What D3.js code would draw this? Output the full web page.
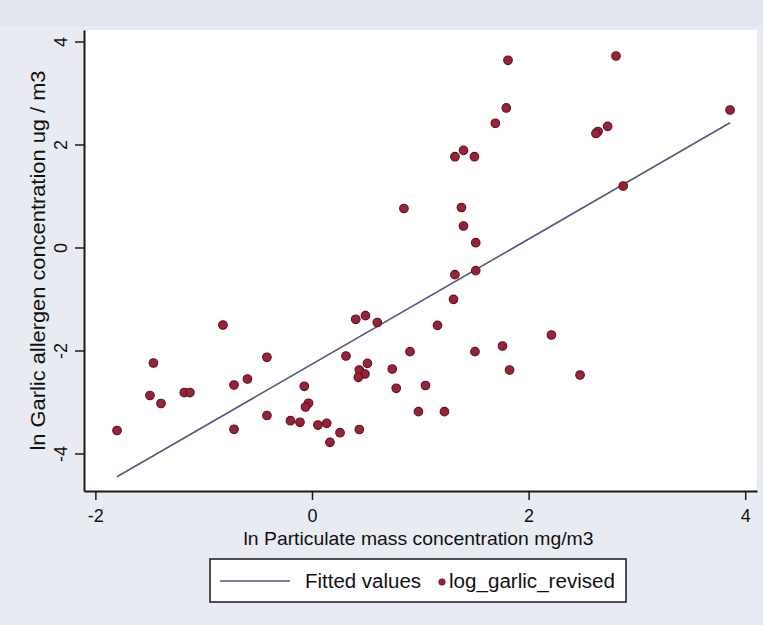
<!DOCTYPE html>
<html>
<head>
<meta charset="utf-8">
<script src="https://cdn.jsdelivr.net/npm/d3@7"></script>
<style>
  html, body { margin: 0; padding: 0; background: #e8ebf1; }
  svg { display: block; }
  text { font-family: "Liberation Sans", Arial, Helvetica, sans-serif; fill: #111; }
</style>
</head>
<body>
<svg id="chart" width="763" height="625"></svg>
<script>
// ---- data ----
const pmX = [-1.80, -1.464, -1.496, -1.394, -1.179, -1.127, -0.822, -0.720, -0.596, -0.720,
             -0.416, -0.416, -0.199, -0.111, -0.071, -0.032, -0.060, 0.055, 0.136, 0.166,
              0.259, 0.314, 0.404, 0.494, 0.603, 0.512, 0.437, 0.489, 0.428, 0.437,
              0.741, 0.778, 0.849, 0.905, 1.048, 0.983, 1.159, 1.223, 1.307, 1.320,
              1.512, 1.512, 1.399, 1.380, 1.320, 1.399, 1.500, 1.693, 1.794, 1.810,
              1.505, 1.759, 1.824, 2.211, 2.475, 2.641, 2.730, 2.807, 2.874, 3.860, 2.622];
const garlicY = [-3.553, -2.243, -2.874, -3.029, -2.816, -2.816, -1.505, -2.670, -2.553, -3.530,
                 -2.132, -3.262, -3.363, -3.394, -2.695, -3.025, -3.097, -3.447, -3.414, -3.783,
                 -3.596, -2.107, -1.394, -1.324, -1.456, -2.249, -2.379, -2.456, -2.520, -3.534,
                 -2.359, -2.734, 0.757, -2.023, -2.680, -3.188, -1.511, -3.188, -1.006, -0.528,
                 -0.450, 0.093, 0.417, 0.777, 1.763, 1.887, 1.763, 2.412, 2.709, 3.635,
                 -2.023, -1.913, -2.379, -1.699, -2.476, 2.252, 2.353, 3.718, 1.194, 2.670, 2.214];
const fitIntercept = -2.265;
const fitSlope = 1.214;
const xTicks = [-2, 0, 2, 4];
const yTicks = [-4, -2, 0, 2, 4];
const xTitle = "ln Particulate mass concentration mg/m3";
const yTitle = "ln Garlic allergen concentration ug / m3";
const legendLabels = ["Fitted values", "log_garlic_revised"];

// ---- drawing ----
const svg = d3.select("#chart");
const L = 84, R = 757, T = 30, B = 491;

svg.append("rect").attr("x", 0).attr("y", 0).attr("width", 763).attr("height", 625).attr("fill", "#e8ebf1");
svg.append("rect").attr("x", 0).attr("y", 0).attr("width", 763).attr("height", 26).attr("fill", "#e1e6ee");

const x = d3.scaleLinear().domain([-2.105, 4.109]).range([L, R]);
const y = d3.scaleLinear().domain([-4.728, 4.223]).range([B, T]);

svg.append("rect").attr("x", L).attr("y", T).attr("width", R - L).attr("height", B - T).attr("fill", "#ffffff");

// fitted line
const xr = d3.extent(pmX);
const fitPts = xr.map(v => [v, fitIntercept + fitSlope * v]);
svg.append("path")
  .attr("d", d3.line().x(d => x(d[0])).y(d => y(d[1]))(fitPts))
  .attr("fill", "none").attr("stroke", "#525a7c").attr("stroke-width", 1.6);

// points
const pts = pmX.map((v, i) => [v, garlicY[i]]);
svg.append("g").selectAll("circle").data(pts).join("circle")
  .attr("cx", d => x(d[0])).attr("cy", d => y(d[1])).attr("r", 4.3)
  .attr("fill", "#9a2236").attr("stroke", "#5c1020").attr("stroke-width", 1.1);

// axes
const xAxis = svg.append("g").attr("transform", `translate(0,${B})`)
  .call(d3.axisBottom(x).tickValues(xTicks).tickSize(9).tickSizeOuter(0).tickFormat(d => String(d)));
xAxis.select(".domain").attr("stroke", "#1a1a1a").attr("stroke-width", 2);
xAxis.selectAll(".tick line").attr("stroke", "#1a1a1a").attr("stroke-width", 1.5);
xAxis.selectAll(".tick text").attr("font-size", 18).attr("y", 0).attr("dy", 31).attr("fill", "#111");

const yAxis = svg.append("g").attr("transform", `translate(${L},0)`)
  .call(d3.axisLeft(y).tickValues(yTicks).tickSize(9).tickSizeOuter(0).tickFormat(d => String(d)));
yAxis.select(".domain").attr("stroke", "#1a1a1a").attr("stroke-width", 2);
yAxis.selectAll(".tick line").attr("stroke", "#1a1a1a").attr("stroke-width", 1.5);
yAxis.selectAll(".tick text")
  .attr("font-size", 18).attr("transform", "rotate(-90)")
  .attr("x", 0).attr("y", -17).attr("dy", 0).attr("text-anchor", "middle").attr("fill", "#111");

// axis titles
svg.append("text").attr("x", (L + R) / 2 - 2).attr("y", 545).attr("text-anchor", "middle")
  .attr("font-size", 19).attr("textLength", 350).attr("lengthAdjust", "spacingAndGlyphs").text(xTitle);
svg.append("text").attr("transform", `translate(45,${(T + B) / 2}) rotate(-90)`).attr("text-anchor", "middle")
  .attr("font-size", 21).attr("textLength", 380).attr("lengthAdjust", "spacingAndGlyphs").text(yTitle);

// legend
const lg = svg.append("g");
lg.append("rect").attr("x", 210).attr("y", 559).attr("width", 416).attr("height", 43)
  .attr("fill", "#ffffff").attr("stroke", "#1a1a1a").attr("stroke-width", 1.5);
lg.append("line").attr("x1", 220).attr("x2", 290).attr("y1", 581).attr("y2", 581)
  .attr("stroke", "#525a7c").attr("stroke-width", 1.6);
lg.append("text").attr("x", 305).attr("y", 588).attr("font-size", 20)
  .attr("textLength", 116).attr("lengthAdjust", "spacingAndGlyphs").text(legendLabels[0]);
lg.append("circle").attr("cx", 442).attr("cy", 582).attr("r", 3.2)
  .attr("fill", "#9a2236").attr("stroke", "#5c1020").attr("stroke-width", 0.8);
lg.append("text").attr("x", 449).attr("y", 588).attr("font-size", 20)
  .attr("textLength", 166).attr("lengthAdjust", "spacingAndGlyphs").text(legendLabels[1]);
</script>
</body>
</html>
